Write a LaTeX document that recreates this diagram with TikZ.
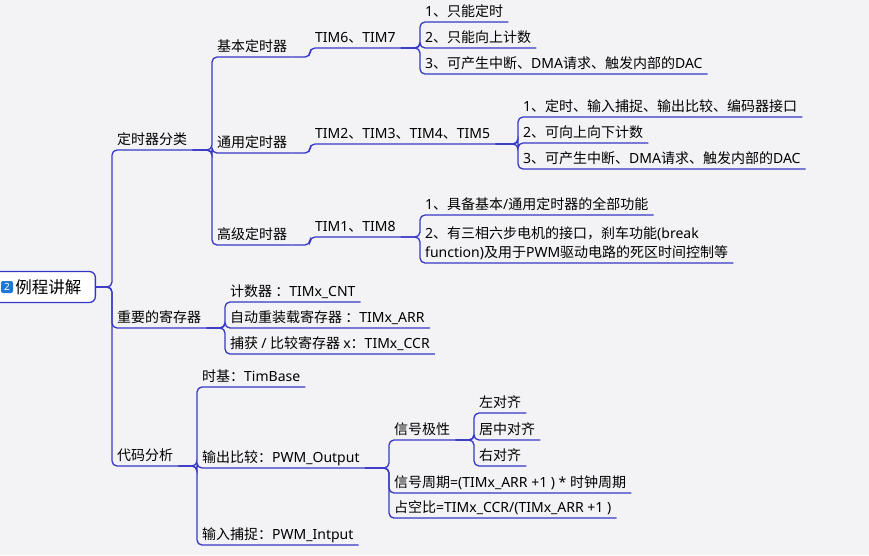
\documentclass[tikz,border=0pt]{standalone}
\usepackage{fontspec}
\setmainfont{Noto Sans}
\newfontfamily\cjkfont{Noto Sans CJK SC}
\newfontfamily\latinfont{Noto Sans}
% CJK characters and full-width punctuation get class 7
\newcount\cjkchar
\cjkchar="3000 \loop \XeTeXcharclass\cjkchar=7 \advance\cjkchar 1 \ifnum\cjkchar<"3040 \repeat
\cjkchar="4E00 \loop \XeTeXcharclass\cjkchar=7 \advance\cjkchar 1 \ifnum\cjkchar<"A000 \repeat
\cjkchar="FF00 \loop \XeTeXcharclass\cjkchar=7 \advance\cjkchar 1 \ifnum\cjkchar<"FFF0 \repeat
\XeTeXinterchartokenstate=1
\XeTeXinterchartoks 0 7 = {\cjkfont}
\XeTeXinterchartoks 4095 7 = {\cjkfont}
\XeTeXinterchartoks 7 0 = {\latinfont}
\XeTeXinterchartoks 4095 0 = {\latinfont}
\usetikzlibrary{positioning}
\definecolor{bgcol}{RGB}{243,243,245}
\definecolor{linecol}{RGB}{55,55,200}
\definecolor{iconcol}{RGB}{30,120,215}
\newcommand\topicfont{\fontsize{14}{19}\selectfont}
\tikzset{
  topic/.style={anchor=south west, inner xsep=5pt, inner ysep=3pt, text depth=2.5pt, font=\topicfont},
  branch/.style={draw=linecol, line width=1.3pt, rounded corners=5pt},
  rootbox/.style={draw=linecol, line width=1.3pt, fill=white, rounded corners=6pt, minimum height=31pt, text width=80pt, align=right, inner xsep=14pt, font=\fontsize{16.5}{19}\selectfont},
  iconbox/.style={fill=iconcol, rounded corners=2pt, text=white, minimum width=12pt, minimum height=12pt, inner sep=0pt, font=\bfseries\fontsize{10}{10}\selectfont}
}

\begin{document}
\begin{tikzpicture}[x=1pt, y=-1pt]
  \useasboundingbox[fill=bgcol] (0,0) rectangle (869,555);
  % root
  \node[rootbox, anchor=east] (root) at (96,287) {例程讲解};
  \node[iconbox] (icon) at (7,287) {2};
  % main branches
  \node[topic] (cat1) at (112,150) {定时器分类};
  \node[topic] (cat2) at (112,328) {重要的寄存器};
  \node[topic] (cat3) at (112,466) {代码分析};
  % timer kinds
  \node[topic] (basic) at (212,57) {基本定时器};
  \node[topic] (general) at (212,153) {通用定时器};
  \node[topic] (advanced) at (212,245) {高级定时器};
  \node[topic] (tim67) at (310,48) {TIM6、TIM7};
  \node[topic] (tim2345) at (310,144) {TIM2、TIM3、TIM4、TIM5};
  \node[topic] (tim18) at (310,237) {TIM1、TIM8};
  \node[topic] (b1) at (420,22) {1、只能定时};
  \node[topic] (b2) at (420,48) {2、只能向上计数};
  \node[topic] (b3) at (420,74) {3、可产生中断、DMA请求、触发内部的DAC};
  \node[topic] (g1) at (518,117) {1、定时、输入捕捉、输出比较、编码器接口};
  \node[topic] (g2) at (518,143) {2、可向上向下计数};
  \node[topic] (g3) at (518,169) {3、可产生中断、DMA请求、触发内部的DAC};
  \node[topic] (a1) at (420,215) {1、具备基本/通用定时器的全部功能};
  \node[topic, align=left] (a2) at (420,263) {2、有三相六步电机的接口，刹车功能(break\\function)及用于PWM驱动电路的死区时间控制等};
  % registers
  \node[topic] (r1) at (225,302) {计数器 ：TIMx\_CNT};
  \node[topic] (r2) at (225,328) {自动重装载寄存器 ：TIMx\_ARR};
  \node[topic] (r3) at (225,354) {捕获 / 比较寄存器 x：TIMx\_CCR};
  % code
  \node[topic] (c1) at (197,387) {时基：TimBase};
  \node[topic] (c2) at (197,468) {输出比较：PWM\_Output};
  \node[topic] (c3) at (197,545) {输入捕捉：PWM\_Intput};
  \node[topic] (pol) at (389,440) {信号极性};
  \node[topic] (period) at (389,493) {信号周期=(TIMx\_ARR +1 ) * 时钟周期};
  \node[topic] (duty) at (389,518) {占空比=TIMx\_CCR/(TIMx\_ARR +1 )};
  \node[topic] (al) at (474,413) {左对齐};
  \node[topic] (ac) at (474,440) {居中对齐};
  \node[topic] (ar) at (474,466) {右对齐};

  \foreach \c in {cat1,cat2,cat3}
    \draw[branch] (root.east) -- (root.east -| \c.south west) |- (\c.south east);
  \foreach \p/\c in {cat1/basic, cat1/general, cat1/advanced,
      basic/tim67, general/tim2345, advanced/tim18,
      tim67/b1, tim67/b2, tim67/b3, tim2345/g1, tim2345/g2, tim2345/g3,
      tim18/a1, tim18/a2, cat2/r1, cat2/r2, cat2/r3,
      cat3/c1, cat3/c2, cat3/c3, c2/pol, c2/period, c2/duty,
      pol/al, pol/ac, pol/ar}
    \draw[branch] (\p.south east) -- (\p.south east -| \c.south west) |- (\c.south east);
\end{tikzpicture}
\end{document}
